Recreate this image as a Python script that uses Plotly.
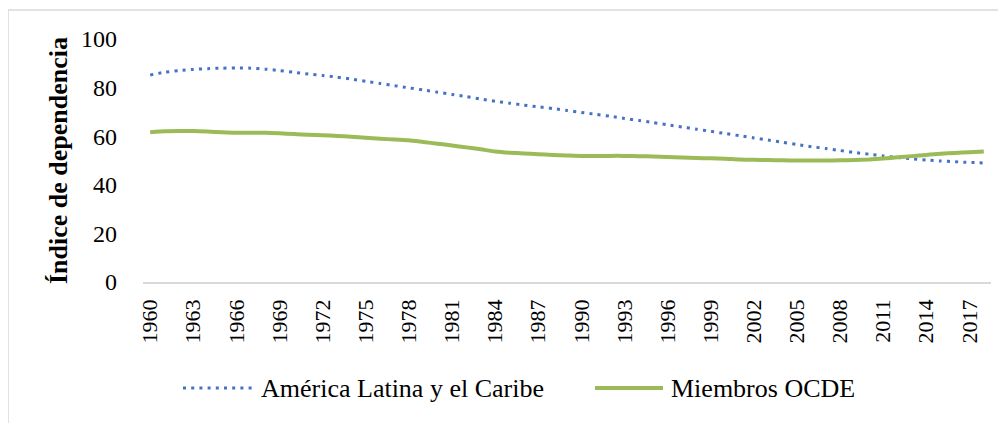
import plotly.graph_objects as go

years = list(range(1960, 2019))

america_latina = [
    85.2, 86.3, 87.0, 87.5, 87.8, 88.0, 88.1, 88.0, 87.6, 87.0,
    86.3, 85.6, 85.0, 84.3, 83.5, 82.6, 81.7, 80.8, 79.9, 79.0,
    78.1, 77.2, 76.3, 75.3, 74.4, 73.6, 72.8, 72.1, 71.4, 70.6,
    69.8, 69.0, 68.2, 67.3, 66.5, 65.6, 64.7, 63.8, 62.9, 62.0,
    61.1, 60.2, 59.3, 58.4, 57.5, 56.6, 55.7, 54.9, 54.1, 53.3,
    52.6, 51.9, 51.2, 50.7, 50.2, 49.8, 49.5, 49.2, 49.0,
]

miembros_ocde = [
    61.6, 62.0, 62.1, 62.1, 61.9, 61.6, 61.4, 61.4, 61.4, 61.2,
    60.9, 60.6, 60.4, 60.1, 59.8, 59.4, 59.0, 58.6, 58.3, 57.6,
    56.9, 56.2, 55.4, 54.6, 53.7, 53.2, 52.9, 52.6, 52.3, 52.1,
    51.9, 51.9, 51.9, 51.9, 51.8, 51.6, 51.4, 51.2, 51.0, 50.9,
    50.7, 50.4, 50.3, 50.2, 50.1, 50.0, 50.0, 50.0, 50.1, 50.2,
    50.4, 50.8, 51.3, 51.8, 52.3, 52.8, 53.1, 53.4, 53.7,
]

series_names = ["América Latina y el Caribe", "Miembros OCDE"]
tick_years = list(range(1960, 2019, 3))

FONT = "Liberation Serif"
BLUE = "#4472C4"
GREEN = "#9BBB59"
DOT = "3px,5.2px"

# área de trazado en píxeles de la página (el body añade 8px de margen)
PLOT_L, PLOT_W = 143, 848
PLOT_B, PLOT_H = 282, 243


def px(x):
    return (x - PLOT_L) / PLOT_W


def py(y):
    return (PLOT_B - y) / PLOT_H


fig = go.Figure()

fig.add_trace(go.Scatter(
    x=years, y=america_latina,
    mode="lines",
    name=series_names[0],
    line=dict(color=BLUE, width=3, dash=DOT, shape="spline", smoothing=0.6),
))

fig.add_trace(go.Scatter(
    x=years, y=miembros_ocde,
    mode="lines",
    name=series_names[1],
    line=dict(color=GREEN, width=4, shape="spline", smoothing=0.6),
))

# leyenda dibujada a mano para controlar posición y espaciado
legend_y = py(388)
shapes = [
    dict(type="rect", xref="paper", yref="paper",
         x0=px(8), x1=px(1020), y0=py(440), y1=py(10),
         line=dict(color="#D9D9D9", width=1.5),
         fillcolor="rgba(0,0,0,0)", layer="below"),
    dict(type="line", xref="paper", yref="paper",
         x0=px(183), x1=px(253), y0=legend_y, y1=legend_y,
         line=dict(color=BLUE, width=3, dash=DOT)),
    dict(type="line", xref="paper", yref="paper",
         x0=px(595), x1=px(663), y0=legend_y, y1=legend_y,
         line=dict(color=GREEN, width=4)),
]
annotations = [
    dict(text=series_names[0], xref="paper", yref="paper",
         x=px(259), y=legend_y, xanchor="left", yanchor="middle",
         showarrow=False, font=dict(family=FONT, size=26, color="#000000")),
    dict(text=series_names[1], xref="paper", yref="paper",
         x=px(669), y=legend_y, xanchor="left", yanchor="middle",
         showarrow=False, font=dict(family=FONT, size=26, color="#000000")),
]

fig.update_layout(
    width=1006,
    height=423,
    margin=dict(l=PLOT_L - 8, r=1006 - (PLOT_L - 8) - PLOT_W, t=PLOT_B - PLOT_H - 8, b=423 - (PLOT_B - 8)),
    paper_bgcolor="white",
    plot_bgcolor="white",
    font=dict(family=FONT, size=23, color="#000000"),
    showlegend=False,
    shapes=shapes,
    annotations=annotations,
)

fig.update_xaxes(
    range=[1959.5, 2018.5],
    tickmode="array",
    tickvals=tick_years,
    ticktext=[str(y) for y in tick_years],
    tickangle=-90,
    showgrid=False,
    zeroline=False,
    showline=True,
    linecolor="#D9D9D9",
    linewidth=1.5,
    ticks="",
    ticklabelstandoff=7,
    tickfont=dict(family=FONT, size=22),
)

fig.update_yaxes(
    range=[0, 100],
    tickvals=[0, 20, 40, 60, 80, 100],
    showgrid=False,
    zeroline=False,
    showline=False,
    ticks="",
    ticklabelstandoff=25,
    tickfont=dict(family=FONT, size=24),
    title=dict(text="<b>Índice de dependencia</b>", font=dict(family=FONT, size=26), standoff=5),
)

fig.write_html("out.html")
